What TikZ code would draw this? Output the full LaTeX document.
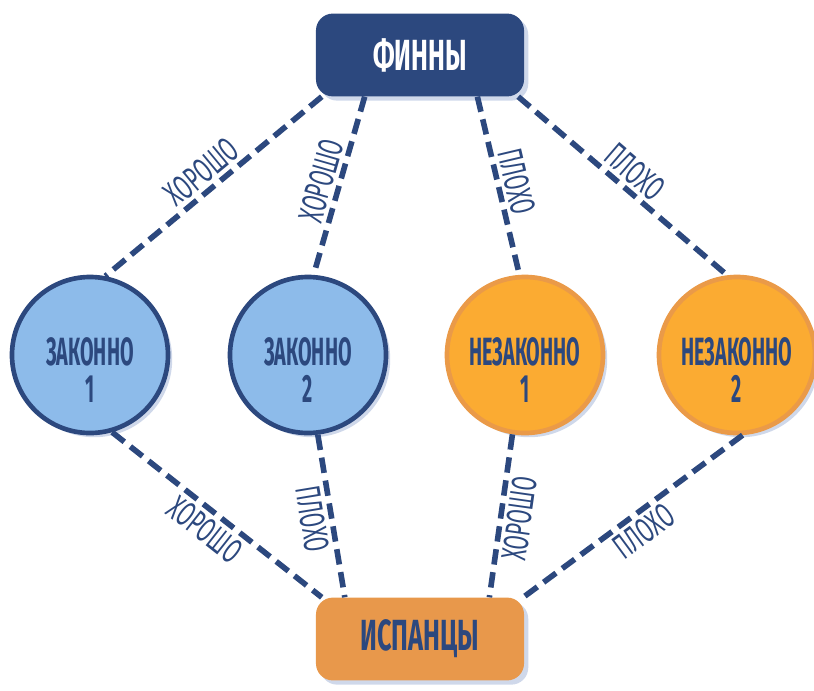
\documentclass[tikz,border=0pt]{standalone}
\usepackage{fontspec}
\usepackage{graphicx}
\setmainfont{Fira Sans}
\usetikzlibrary{shadows}

\definecolor{navy}{RGB}{44,72,126}
\definecolor{skyfill}{RGB}{141,187,234}
\definecolor{amber}{RGB}{251,171,50}
\definecolor{amberline}{RGB}{234,154,72}
\definecolor{clay}{RGB}{232,152,75}
\definecolor{shade}{RGB}{160,178,214}

% narrow lettering
\newcommand\squeeze[2]{\scalebox{#1}[1]{#2}}

\begin{document}
\begin{tikzpicture}[x=0.025cm,y=-0.025cm,
  team/.style={rounded corners=12pt,minimum width=5.2cm,minimum height=2.07cm,
    font=\bfseries\fontsize{31}{34}\selectfont,
    drop shadow={shadow xshift=3pt,shadow yshift=-3pt,fill=shade,opacity=0.5}},
  option/.style={circle,minimum size=3.9cm,line width=3.3pt,
    drop shadow={shadow xshift=3pt,shadow yshift=-3pt,fill=shade,opacity=0.5}},
  optname/.style={font=\bfseries\fontsize{28}{26}\selectfont,text=navy,align=center},
  link/.style={navy,line width=4pt,dash pattern=on 11pt off 5.5pt},
  verdict/.style={font=\fontsize{25}{25}\selectfont,text=navy,sloped,midway,inner sep=2.5pt}]

\useasboundingbox (0,0) rectangle (814,690);

% teams
\node[team,fill=navy,text=white] (finns) at (420,55) {\squeeze{0.58}{ФИННЫ}};
\node[team,fill=clay,text=navy] (spain) at (420,639) {\squeeze{0.58}{ИСПАНЦЫ}};

% options
\node[option,draw=navy,fill=skyfill] (legal1) at (90,355) {};
\node[option,draw=navy,fill=skyfill] (legal2) at (308,355) {};
\node[option,draw=amberline,fill=amber] (illegal1) at (525,355) {};
\node[option,draw=amberline,fill=amber] (illegal2) at (737,355) {};

\node[optname] (legal1txt) at (90,370) {\squeeze{0.5}{ЗАКОННО}\\\squeeze{0.5}{1}};
\node[optname] (legal2txt) at (308,370) {\squeeze{0.5}{ЗАКОННО}\\\squeeze{0.5}{2}};
\node[optname] (illegal1txt) at (525,370) {\squeeze{0.5}{НЕЗАКОННО}\\\squeeze{0.5}{1}};
\node[optname] (illegal2txt) at (737,370) {\squeeze{0.5}{НЕЗАКОННО}\\\squeeze{0.5}{2}};

% finns
\draw[link] (finns.203) -- node[verdict,above] (f1) {\squeeze{0.58}{ХОРОШО}} (legal1.79);
\draw[link] (finns.217) -- node[verdict,above] (f2) {\squeeze{0.58}{ХОРОШО}} (legal2.86);
\draw[link] (finns.-36) -- node[verdict,above] (f3) {\squeeze{0.58}{ПЛОХО}} (illegal1.94);
\draw[link] (finns.-23) -- node[verdict,above] (f4) {\squeeze{0.58}{ПЛОХО}} (illegal2.97);

% spaniards
\draw[link] (legal1.-74) -- node[verdict,below] (s1) {\squeeze{0.58}{ХОРОШО}} (spain.157);
\draw[link] (legal2.-83) -- node[verdict,below] (s2) {\squeeze{0.58}{ПЛОХО}} (spain.151);
\draw[link] (illegal1.-99) -- node[verdict,below] (s3) {\squeeze{0.58}{ХОРОШО}} (spain.31);
\draw[link] (illegal2.-86) -- node[verdict,below] (s4) {\squeeze{0.58}{ПЛОХО}} (spain.22);

\end{tikzpicture}
\end{document}
